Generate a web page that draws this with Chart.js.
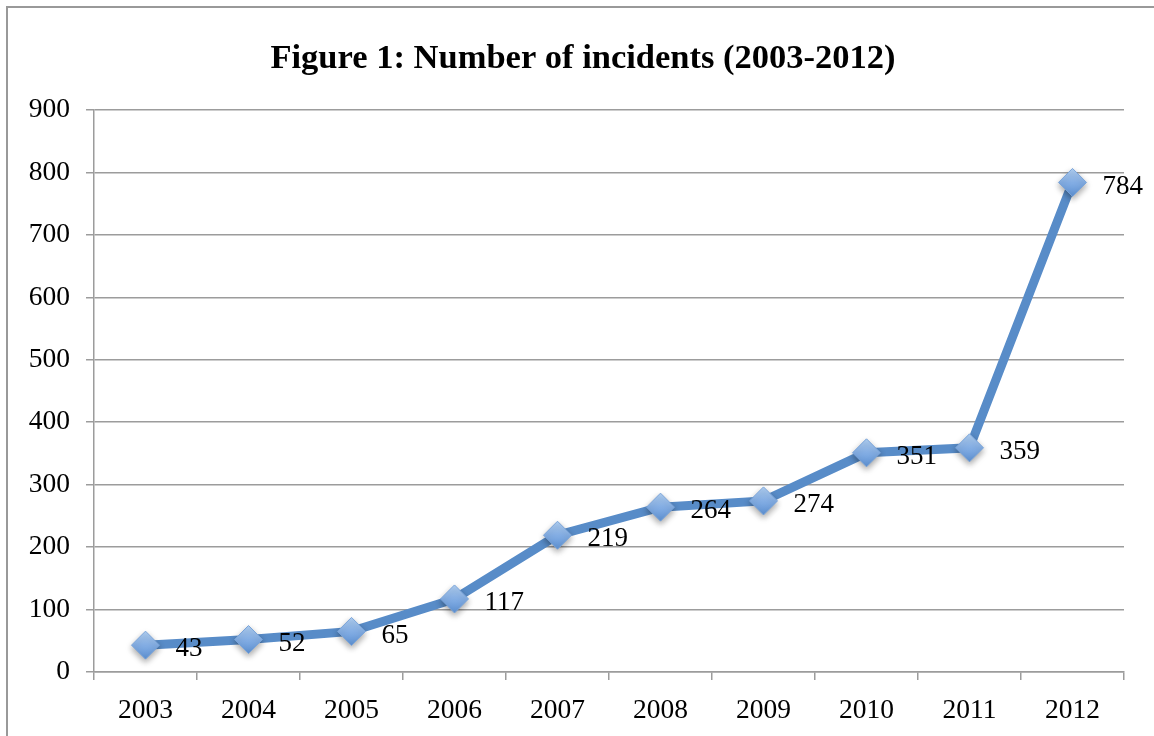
<!DOCTYPE html>
<html>
<head>
<meta charset="utf-8">
<script src="https://cdn.jsdelivr.net/npm/chart.js@4.4.1/dist/chart.umd.min.js"></script>
<style>
  html, body { margin: 0; padding: 0; background: #fff; }
  #wrap { width: 1154px; height: 736px; position: relative; }
</style>
</head>
<body>
<div id="wrap"><canvas id="c" width="1154" height="736"></canvas></div>
<script>
// Yearly incident counts
const years = ['2003', '2004', '2005', '2006', '2007', '2008', '2009', '2010', '2011', '2012'];
const incidents = [43, 52, 65, 117, 219, 264, 274, 351, 359, 784];
const titleText = 'Figure 1: Number of incidents (2003-2012)';
const yMin = 0, yMax = 900, yStep = 100;

const SERIF = '"Liberation Serif", "Times New Roman", serif';
const GRID = '#9c9c9c';

// Outer frame of the chart object and the heading
const framePlugin = {
  id: 'frame',
  beforeDraw(chart) {
    const c = chart.ctx;
    c.save();
    c.strokeStyle = '#999';
    c.lineWidth = 2;
    c.beginPath();
    c.moveTo(7, chart.height);
    c.lineTo(7, 7);
    c.lineTo(chart.width, 7);
    c.stroke();
    c.font = 'bold 34.5px ' + SERIF;
    c.fillStyle = '#000';
    c.textAlign = 'center';
    c.textBaseline = 'alphabetic';
    c.fillText(titleText, 583, 68);
    c.restore();
  }
};

// Soft drop shadow under the diamond markers
const shadowPlugin = {
  id: 'markerShadow',
  beforeDatasetDraw(chart, args) {
    if (args.index !== 1) return;
    const c = chart.ctx;
    c.save();
    c.shadowColor = 'rgba(0,0,0,0.35)';
    c.shadowBlur = 6;
    c.shadowOffsetY = 3;
  },
  afterDatasetDraw(chart, args) {
    if (args.index !== 1) return;
    chart.ctx.restore();
  }
};

// Value labels to the right of each point
const valueLabels = {
  id: 'valueLabels',
  afterDatasetsDraw(chart) {
    const meta = chart.getDatasetMeta(1);
    const c = chart.ctx;
    c.save();
    c.font = '27px ' + SERIF;
    c.fillStyle = '#000';
    c.textAlign = 'left';
    c.textBaseline = 'middle';
    meta.data.forEach((pt, i) => {
      c.fillText(String(incidents[i]), pt.x + 30, pt.y + 4);
    });
    c.restore();
  }
};

function markerFill(ctx) {
  const chart = ctx.chart;
  const ys = chart.scales && chart.scales.y;
  if (!ys || typeof ctx.raw !== 'number') return '#7aa6dc';
  const y = ys.getPixelForValue(ctx.raw);
  if (!isFinite(y)) return '#7aa6dc';
  const g = chart.ctx.createLinearGradient(0, y - 14, 0, y + 14);
  g.addColorStop(0, '#b0cff2');
  g.addColorStop(0.5, '#84aee4');
  g.addColorStop(1, '#5d91d3');
  return g;
}

new Chart(document.getElementById('c'), {
  type: 'line',
  data: {
    labels: years,
    datasets: [
      {
        data: incidents,
        borderColor: '#588cc8',
        borderWidth: 9,
        pointRadius: 0,
        pointHoverRadius: 0,
        tension: 0,
        fill: false,
        order: 2
      },
      {
        data: incidents,
        showLine: false,
        pointStyle: 'rectRot',
        pointRadius: 14,
        pointHoverRadius: 14,
        pointBackgroundColor: markerFill,
        pointBorderColor: '#78a3d9',
        pointBorderWidth: 1,
        order: 1
      }
    ]
  },
  options: {
    responsive: false,
    animation: false,
    events: [],
    layout: { padding: { left: 0, right: 30, top: 110, bottom: 0 } },
    plugins: {
      legend: { display: false },
      tooltip: { enabled: false },
      title: { display: false }
    },
    scales: {
      x: {
        type: 'category',
        offset: true,
        grid: {
          display: true,
          offset: true,
          drawOnChartArea: false,
          drawTicks: true,
          tickLength: 8,
          color: GRID,
          lineWidth: 1.5
        },
        border: { display: true, color: GRID, width: 1.5 },
        ticks: {
          color: '#000',
          font: { family: SERIF, size: 27.5 },
          padding: 14,
          maxRotation: 0,
          autoSkip: false
        },
        afterFit(scale) { scale.height = 64; }
      },
      y: {
        min: yMin,
        max: yMax,
        grid: {
          display: true,
          drawTicks: true,
          tickLength: 8,
          color: GRID,
          lineWidth: 1.5
        },
        border: { display: true, color: GRID, width: 1.5 },
        ticks: {
          stepSize: yStep,
          color: '#000',
          font: { family: SERIF, size: 27.5 },
          padding: 16
        },
        afterFit(scale) { scale.width = 94; }
      }
    }
  },
  plugins: [framePlugin, shadowPlugin, valueLabels]
});
</script>
</body>
</html>
